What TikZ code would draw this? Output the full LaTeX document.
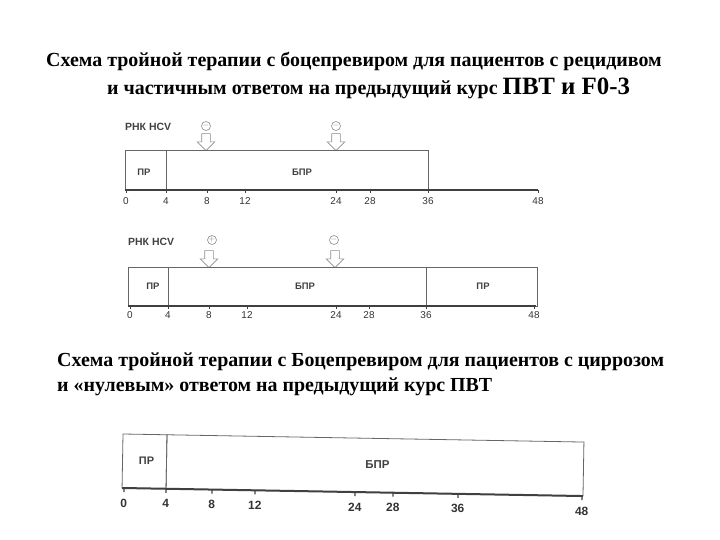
\documentclass[tikz,border=0pt]{standalone}
\usepackage{fontspec}
\setmainfont{Liberation Serif}
\setsansfont{Liberation Sans}
\usetikzlibrary{shapes.arrows}

\begin{document}
\begin{tikzpicture}[x=1bp,y=-1bp,
  title/.style={font=\bfseries\fontsize{20}{23}\selectfont,inner sep=0pt},
  lbl/.style={font=\sffamily\bfseries\fontsize{9.5}{10}\selectfont,text=black!75,inner sep=0pt},
  wk/.style={font=\sffamily\fontsize{10}{10}\selectfont,text=black!80,inner sep=0pt},
  bar/.style={draw=black!60,line width=0.8bp},
  axis/.style={draw=black!75,line width=1.6bp},
  rna/.style={circle,draw=black!45,line width=0.6bp,inner sep=0pt,minimum size=9bp,font=\fontsize{8}{8}\selectfont,text=black!50},
  dnarrow/.style={single arrow,draw=black!45,line width=0.6bp,shape border rotate=270,minimum height=17bp,inner sep=4bp,single arrow head extend=4.5bp}]
  \useasboundingbox (0,0) rectangle (720,540);
  % titles
  \node[title] (t1a) at (354,61) {Схема тройной терапии с боцепревиром для пациентов с рецидивом};
  \node[title,anchor=west] (t1b) at (107,88) {и частичным ответом на предыдущий курс {\fontsize{25}{27}\selectfont ПВТ и F0-3}};
  \node[title,anchor=west] (t2a) at (57,362) {Схема тройной терапии с Боцепревиром для пациентов с циррозом};
  \node[title,anchor=west] (t2b) at (57,387) {и «нулевым» ответом на предыдущий курс ПВТ};

  % scheme 1
  \node[lbl,font=\sffamily\bfseries\fontsize{10.5}{11}\selectfont,anchor=west] (r1) at (125,127) {РНК HCV};
  \node[rna] (m1a) at (206,126) {$-$};
  \node[rna] (m1b) at (336,126) {$-$};
  \node[dnarrow] (d1a) at (206,140) {};
  \node[dnarrow] (d1b) at (336,140) {};
  \draw[bar] (125,150) rectangle (166,190);
  \draw[bar] (166,150) rectangle (428,190);
  \draw[axis] (125,190) -- (538,190);
  \node[lbl] (p1) at (144,172) {ПР};
  \node[lbl] (b1) at (302,172) {БПР};
  \foreach \w/\x in {0/126,4/166,8/207,12/245,24/336,28/370,36/428,48/538} {
    \draw[axis,line width=1bp] (\x,190) -- (\x,193);
    \node[wk] (s1w\w) at (\x,201) {\w};
  }

  % scheme 2
  \node[lbl,font=\sffamily\bfseries\fontsize{10.5}{11}\selectfont,anchor=west] (r2) at (128,242) {РНК HCV};
  \node[rna] (m2a) at (212,240) {$+$};
  \node[rna] (m2b) at (334,240) {$-$};
  \node[dnarrow] (d2a) at (209,257) {};
  \node[dnarrow] (d2b) at (335,257) {};
  \draw[bar] (128,267) rectangle (168,306);
  \draw[bar] (168,267) rectangle (426,306);
  \draw[bar] (426,267) rectangle (537,306);
  \draw[axis] (128,306) -- (536,306);
  \node[lbl] (p2a) at (153,286) {ПР};
  \node[lbl] (b2) at (305,286) {БПР};
  \node[lbl] (p2b) at (483,286) {ПР};
  \foreach \w/\x in {0/130,4/168,8/209,12/247,24/336,28/369,36/426,48/534} {
    \draw[axis,line width=1bp] (\x,306) -- (\x,309);
    \node[wk] (s2w\w) at (\x,315) {\w};
  }

  % scheme 3
  \begin{scope}[rotate around={-1:(123,434)}]
    \draw[bar] (123,434) rectangle (167,488);
    \draw[bar] (167,434) rectangle (584,488);
    \draw[axis,line width=2bp] (123,488) -- (584,488);
    \node[lbl,font=\sffamily\bfseries\fontsize{11}{11}\selectfont] (p3) at (147,460) {ПР};
    \node[lbl,font=\sffamily\bfseries\fontsize{11.5}{12}\selectfont] (b3) at (378,460) {БПР};
    \foreach \w/\x in {0/125,4/167,8/213,12/256,24/356,28/394,36/459,48/583} {
      \draw[axis,line width=1.2bp] (\x,488) -- (\x,492);
      \node[wk,font=\sffamily\bfseries\fontsize{12}{12}\selectfont] (s3w\w) at (\x,503) {\w};
    }
  \end{scope}
\end{tikzpicture}
\end{document}
